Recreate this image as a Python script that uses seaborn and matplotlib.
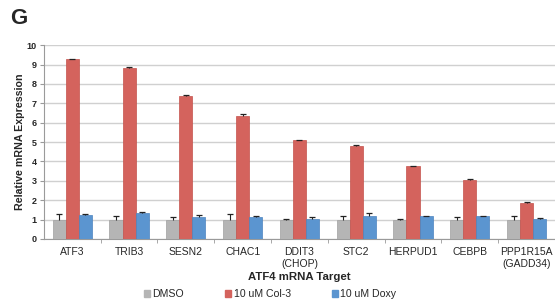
import numpy as np
import pandas as pd
import matplotlib
matplotlib.use("Agg")
import matplotlib.pyplot as plt
import seaborn as sns

# --- Datos ---
targets = ["ATF3", "TRIB3", "SESN2", "CHAC1", "DDIT3\n(CHOP)", "STC2",
           "HERPUD1", "CEBPB", "PPP1R15A\n(GADD34)"]
treatments = ["DMSO", "10 uM Col-3", "10 uM Doxy"]

dmso = [1.0, 1.0, 1.0, 1.0, 1.0, 1.0, 1.0, 1.0, 1.0]
col3 = [9.27, 8.83, 7.39, 6.33, 5.10, 4.80, 3.76, 3.05, 1.85]
doxy = [1.23, 1.34, 1.12, 1.12, 1.05, 1.18, 1.18, 1.17, 1.05]

dmso_err = [0.27, 0.17, 0.12, 0.28, 0.03, 0.17, 0.02, 0.12, 0.18]
col3_err = [0.02, 0.05, 0.04, 0.10, 0.03, 0.03, 0.03, 0.03, 0.05]
doxy_err = [0.08, 0.05, 0.14, 0.05, 0.10, 0.17, 0.02, 0.02, 0.02]

colors = ["#b5b5b5", "#d4635d", "#5b95d0"]
edges = ["#a0a0a0", "#c4524c", "#4c84bf"]


def main():
    sns.set_style("white")
    plt.rcParams["font.family"] = ["Liberation Sans", "DejaVu Sans"]

    df = pd.DataFrame({
        "target": targets * 3,
        "treatment": np.repeat(treatments, len(targets)),
        "value": dmso + col3 + doxy,
    })
    errs = [dmso_err, col3_err, doxy_err]

    fig = plt.figure(figsize=(5.55, 3.07), dpi=100)
    ax = fig.add_axes([0.079, 0.2215, 0.921, 0.6315])

    sns.barplot(data=df, x="target", y="value", hue="treatment",
                order=targets, hue_order=treatments, palette=colors,
                saturation=1, width=0.69, errorbar=None, legend=False,
                ax=ax, zorder=3)

    # --- Barras de error (solo hacia arriba, estilo Excel) ---
    bar_conts = list(ax.containers)
    for i, cont in enumerate(bar_conts):
        for bar, e in zip(cont, errs[i]):
            bar.set_edgecolor(edges[i])
            bar.set_linewidth(0.5)
            xc = bar.get_x() + bar.get_width() / 2
            h = bar.get_height()
            # el marcador "_" hace de tapa superior
            ax.errorbar(xc, h + e, yerr=[[e], [0]], fmt="_", color="#222222",
                        markersize=4.5, markeredgewidth=0.9,
                        elinewidth=0.8, capsize=0, zorder=4)

    ax.set_xlim(-0.5, 8.5)
    ax.set_ylim(0, 10)
    ax.set_yticks(range(0, 11))
    ax.yaxis.grid(True, color="#d0d0d0", linewidth=1.0, zorder=0)
    ax.set_axisbelow(True)

    for s in ["top", "right"]:
        ax.spines[s].set_visible(False)
    for s in ["left", "bottom"]:
        ax.spines[s].set_color("#9a9a9a")
        ax.spines[s].set_linewidth(0.8)

    ax.tick_params(axis="y", direction="out", length=3, color="#9a9a9a",
                   labelsize=6.5, pad=2, left=True)
    for lbl in ax.get_yticklabels():
        lbl.set_fontweight("bold")
    ax.tick_params(axis="x", which="major", length=0, labelsize=7.5, pad=6)
    ax.set_xticks(np.arange(0.5, 8.5, 1.0), minor=True)
    ax.tick_params(axis="x", which="minor", direction="out", length=3,
                   color="#9a9a9a", bottom=True)

    ax.set_ylabel("Relative mRNA Expression", fontsize=7.7, fontweight="bold",
                  labelpad=1)
    ax.set_xlabel("ATF4 mRNA Target", fontsize=8.2, fontweight="bold",
                  labelpad=2)

    # --- Leyenda ---
    handles = [plt.Rectangle((0, 0), 1, 1, color=c) for c in colors]
    fig.legend(handles, treatments, loc="center", bbox_to_anchor=(0.487, 0.042),
               ncol=3, frameon=False, fontsize=7.6, handlelength=0.55,
               handleheight=0.55, handletextpad=0.25, columnspacing=3.9)

    fig.text(0.018, 0.94, "G", fontsize=16, fontweight="bold", va="center")

    fig.savefig("out.png", dpi=100)


if __name__ == "__main__":
    main()
